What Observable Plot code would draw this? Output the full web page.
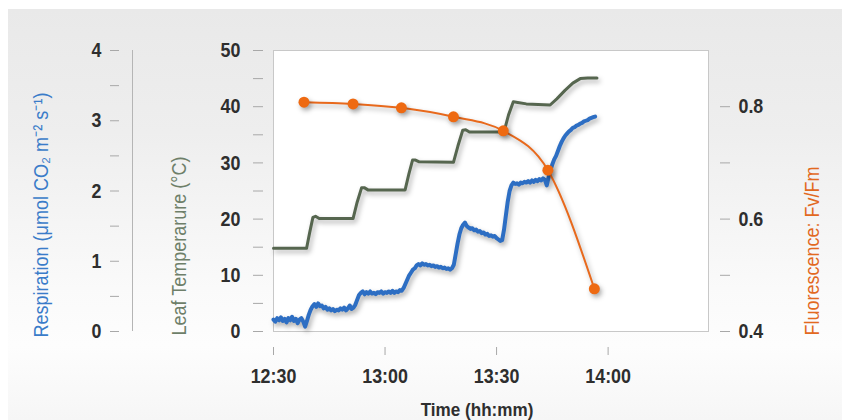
<!DOCTYPE html>
<html><head><meta charset="utf-8">
<script src="https://cdn.jsdelivr.net/npm/d3@7"></script>
<script src="https://cdn.jsdelivr.net/npm/@observablehq/plot@0.6"></script>
<style>
html,body{margin:0;padding:0;background:#fff;}
#wrap{position:relative;width:842px;height:420px;overflow:hidden;background:#fff;}
#bg{position:absolute;left:8px;top:9px;right:0;bottom:0;background:linear-gradient(#e9e9e9 0%, #eeeeee 30%, #fafafa 68%, #fdfdfd 82%, #f6f6f6 100%);}
#chart{position:absolute;left:0;top:0;}
#chart g[aria-label="line"], #chart g[aria-label="dot"]{filter:drop-shadow(2px 3px 2.5px rgba(0,0,0,0.32));}
</style></head>
<body><div id="wrap"><div id="bg"></div><div id="chart"></div></div>
<script>
// time in minutes after midnight (750 = 12:30)
const xTicks = [750, 780, 810, 840];
const tempTicks = [0, 10, 20, 30, 40, 50];
const tempMinor = [5, 15, 25, 35, 45];
const respTicks = [0, 1, 2, 3, 4];
const respMinor = [0.5, 1.5, 2.5, 3.5];
const fluorTicks = [0.4, 0.6, 0.8];
const fluorMinor = [0.5, 0.7];

// Leaf temperature (°C)
const leafTemp = [
  [750,14.8],[758.9,14.8],[759.7,17.5],[760.6,20.3],[761.3,20.5],[762.3,20.1],[771.4,20.1],
  [772.5,23],[773.7,25.6],[774.4,25.6],[775.4,25.2],[785.4,25.2],[786.4,28],[787.4,30.5],
  [788.2,30.5],[789.2,30.2],[798.4,30.1],[799.6,33],[800.9,35.8],[801.7,35.9],[802.7,35.5],
  [812.0,35.5],[813.2,38.5],[814.5,40.9],[815.3,40.8],[818,40.5],[824.4,40.3],[826.2,41.4],
  [828.4,42.9],[830.5,44.2],[832.5,45.0],[834.5,45.1],[837.0,45.1]
];

// Respiration (µmol CO2 m-2 s-1)
const respiration = [
  [750,0.17],[750.5,0.14],[751,0.19],[751.5,0.16],[752,0.20],[752.5,0.15],[753,0.18],[753.5,0.13],
  [754,0.19],[754.5,0.16],[755,0.21],[755.5,0.15],[756,0.18],[756.5,0.12],[757,0.17],[757.5,0.19],
  [758,0.14],[758.5,0.07],[759,0.15],[759.5,0.24],[760,0.31],[760.5,0.36],[761,0.39],[761.5,0.35],
  [762,0.40],[762.5,0.36],[763,0.37],[763.5,0.33],[764,0.35],[764.5,0.31],[765,0.33],[765.5,0.30],
  [766,0.32],[766.5,0.29],[767,0.31],[767.5,0.30],[768,0.33],[768.5,0.31],[769,0.34],[769.5,0.30],
  [770,0.33],[770.5,0.37],[771,0.32],[771.5,0.34],[772,0.38],[772.5,0.45],[773,0.52],[773.5,0.55],
  [774,0.57],[774.5,0.53],[775,0.56],[775.5,0.54],[776,0.57],[776.5,0.54],[777,0.55],[777.5,0.53],
  [778,0.56],[778.5,0.55],[779,0.57],[779.5,0.54],[780,0.56],[780.5,0.55],[781,0.57],[781.5,0.55],
  [782,0.58],[782.5,0.55],[783,0.57],[783.5,0.56],[784,0.59],[784.5,0.58],[785,0.62],[785.5,0.68],
  [786,0.74],[786.5,0.80],[787,0.84],[787.5,0.88],[788,0.90],[788.5,0.94],[789,0.96],[789.5,0.94],
  [790,0.97],[790.5,0.95],[791,0.96],[791.5,0.94],[792,0.95],[792.5,0.93],[793,0.94],[793.5,0.92],
  [794,0.93],[794.5,0.91],[795,0.92],[795.5,0.90],[796,0.91],[796.5,0.89],[797,0.90],[797.5,0.88],
  [798,0.90],[798.5,0.95],[799,1.10],[799.5,1.25],[800,1.38],[800.5,1.47],[801,1.52],[801.5,1.55],
  [802,1.50],[802.5,1.48],[803,1.46],[803.5,1.47],[804,1.44],[804.5,1.45],[805,1.42],[805.5,1.43],
  [806,1.40],[806.5,1.41],[807,1.38],[807.5,1.39],[808,1.36],[808.5,1.37],[809,1.35],[809.5,1.36],
  [810,1.33],[810.5,1.31],[811,1.29],[811.5,1.30],[812,1.45],[812.5,1.65],[813,1.85],[813.5,2.00],
  [814,2.08],[814.5,2.12],[815,2.10],[815.5,2.11],[816,2.09],[816.5,2.12],[817,2.11],[817.5,2.13],
  [818,2.12],[818.5,2.14],[819,2.12],[819.5,2.15],[820,2.13],[820.5,2.16],[821,2.14],[821.5,2.17],
  [822,2.15],[822.5,2.18],[823,2.16],[823.5,2.08],[824,2.20],[824.5,2.30],[825,2.38],[825.5,2.45],
  [826,2.50],[826.5,2.57],[827,2.64],[827.5,2.70],[828,2.75],[828.5,2.79],[829,2.82],[829.5,2.85],
  [830,2.87],[830.5,2.90],[831,2.91],[831.5,2.93],[832,2.94],[832.5,2.96],[833,2.97],[833.5,2.99],
  [834,3.00],[834.5,3.01],[835,3.03],[835.5,3.04],[836,3.05],[836.5,3.06]
];

// Fluorescence Fv/Fm
const fluorescence = [
  [758.2,0.808],[771.4,0.805],[784.4,0.798],[798.4,0.782],[811.8,0.757],[823.8,0.687],[836.3,0.476]
];

// map secondary axes onto the temperature scale (0–50)
const respToY = v => v * 12.5;
const fluorToY = v => (v - 0.4) * 100;
const fmtTime = d => `${Math.floor(d / 60)}:${String(d % 60).padStart(2, "0")}`;

const FONT = "'Liberation Sans Narrow', 'Liberation Sans', Arial, sans-serif";
const TICK = "#a8a8a8", LABEL = "#2e2e2e";

const chart = Plot.plot({
  width: 842, height: 420,
  marginTop: 50, marginBottom: 89, marginLeft: 273, marginRight: 134,
  x: {domain: [750, 867]},
  y: {domain: [0, 50]},
  style: {background: "transparent", fontFamily: FONT, fontSize: "21px", color: LABEL},
  marks: [
    Plot.frame({fill: "white", stroke: "#c8c8c8"}),
    // Leaf temperature axis
    Plot.axisY(tempTicks, {anchor: "left", dx: -10, tickSize: 10, tickPadding: 13, stroke: TICK, fill: LABEL, fontWeight: "bold", fontSize: 21, label: null}),
    Plot.axisY(tempMinor, {anchor: "left", dx: -10, tickSize: 10, tickFormat: () => "", stroke: TICK, label: null}),
    // Respiration axis
    Plot.axisY(respTicks.map(respToY), {anchor: "left", dx: -154, tickSize: 9, tickPadding: 9, tickFormat: d => d / 12.5, stroke: TICK, fill: LABEL, fontWeight: "bold", fontSize: 21, label: null}),
    Plot.axisY(respMinor.map(respToY), {anchor: "left", dx: -154, tickSize: 9, tickFormat: () => "", stroke: TICK, label: null}),
    Plot.ruleX([750], {y1: 0, y2: 50, dx: -141, stroke: "#b5b5b5"}),
    // Fluorescence axis
    Plot.axisY(fluorTicks.map(fluorToY), {anchor: "right", dx: 11, tickSize: 10, tickPadding: 9, tickFormat: d => (d / 100 + 0.4).toFixed(1), stroke: TICK, fill: LABEL, fontWeight: "bold", fontSize: 21, label: null}),
    Plot.axisY(fluorMinor.map(fluorToY), {anchor: "right", dx: 11, tickSize: 10, tickFormat: () => "", stroke: TICK, label: null}),
    // Time axis
    Plot.axisX(xTicks, {anchor: "bottom", dy: 16, tickSize: 8, tickPadding: 13, tickFormat: fmtTime, stroke: TICK, fill: LABEL, fontWeight: "bold", fontSize: 21, label: null}),
    // Axis titles
    Plot.text(["Time (hh:mm)"], {frameAnchor: "bottom", dx: -14, dy: 84, fill: LABEL, fontWeight: "bold", fontSize: 19}),
    Plot.text(["Respiration (μmol CO₂ m⁻² s⁻¹)"], {frameAnchor: "bottom-left", rotate: -90, textAnchor: "start", dx: -226, dy: 6, fill: "#3a7cc9", fontSize: 20}),
    Plot.text(["Leaf Temperarure (°C)"], {frameAnchor: "bottom-left", rotate: -90, textAnchor: "start", dx: -88, dy: 4, fill: "#6e7f69", fontSize: 20}),
    Plot.text(["Fluorescence: Fv/Fm"], {frameAnchor: "bottom-right", rotate: -90, textAnchor: "start", dx: 110, dy: 4, fill: "#e2691f", fontSize: 20}),
    // Data
    Plot.line(leafTemp, {x: d => d[0], y: d => d[1], stroke: "#56664f", strokeWidth: 3}),
    Plot.line(respiration, {x: d => d[0], y: d => respToY(d[1]), stroke: "#2d6ec3", strokeWidth: 4}),
    Plot.line(fluorescence, {x: d => d[0], y: d => fluorToY(d[1]), stroke: "#e8691c", strokeWidth: 2, curve: "monotone-x"}),
    Plot.dot(fluorescence, {x: d => d[0], y: d => fluorToY(d[1]), fill: "#ee6a12", r: 5.5})
  ]
});
document.getElementById("chart").appendChild(chart);

// emulate the condensed typeface of the original
function condense(selector, factor) {
  chart.querySelectorAll(selector).forEach(t => {
    const len = t.getComputedTextLength();
    if (len > 0) {
      t.setAttribute("textLength", (len * factor).toFixed(1));
      t.setAttribute("lengthAdjust", "spacingAndGlyphs");
    }
  });
}
condense('g[aria-label$="tick label"] text', 0.85);
condense('g[aria-label="text"] text', 0.9);
</script>
</body></html>
